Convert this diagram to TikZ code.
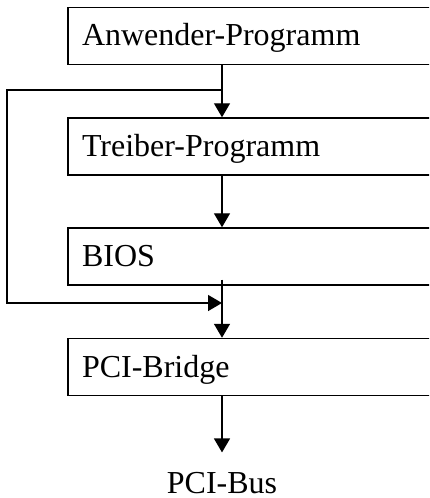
\documentclass[tikz,border=0pt]{standalone}
\usepackage{fontspec}
\setmainfont{Liberation Serif}
\usetikzlibrary{arrows.meta}
\begin{document}
\begin{tikzpicture}[x=0.75pt,y=-0.75pt,>={Triangle[length=10.5pt,width=12pt]},line width=1.1pt,font=\fontsize{24}{28}\selectfont,
	box/.style={draw,rectangle,minimum height=42.75pt,text width=258pt,align=left,inner xsep=10.5pt,text height=18pt,text depth=3pt}]
	\useasboundingbox (0,0) rectangle (429,498);
	\clip (0,0) rectangle (429,498);
	\path (222,0) coordinate (M)
	(222,90) coordinate (T)
	(7,90) coordinate (L1)
	(7,303) coordinate (L2)
	(222,303) coordinate (R)
	;
	\foreach \n/\y/\t in {anw/36/Anwender-Programm,treib/146.5/Treiber-Programm,bios/256.5/BIOS,bridge/367/PCI-Bridge}
	\node[box] (\n) at (254,\y) {\t};
	\node[inner sep=0pt,anchor=base] (bus) at (222,493) {PCI-Bus};
	\draw[->] (anw.south -| M)--(treib.north -| M);
	\draw[->] (treib.south -| M)--(bios.north -| M);
	\draw[->] (bios.south -| M) ++(0,-6)--(bridge.north -| M);
	\draw[->] (bridge.south -| M)--([yshift=14pt]bus.north);
	% Umweg an den Treibern vorbei
	\draw[->] (T)--(L1)--(L2)--(R);
\end{tikzpicture}
\end{document}
